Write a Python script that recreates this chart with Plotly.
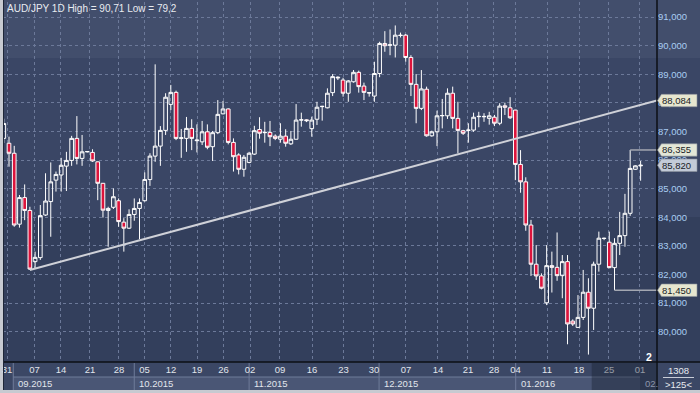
import plotly.graph_objects as go

# ---------------- data ----------------
bars = list(range(1, 124))
open_ = [86.76, 86.59, 86.24, 83.76, 84.69, 84.24, 82.45, 82.59, 84.08, 84.55,
         85.30, 85.48, 85.79, 85.99, 86.76, 86.06, 86.29, 86.27, 85.94, 85.19,
         84.24, 84.35, 84.58, 83.83, 83.62, 84.10, 84.31, 84.58, 85.32, 86.14,
         86.49, 87.04, 87.95, 88.37, 86.76, 86.76, 87.11, 86.68, 86.64, 86.99,
         86.47, 86.96, 87.62, 87.79, 86.62, 86.18, 85.68, 85.92, 86.21, 87.07,
         86.96, 86.97, 86.84, 86.73, 86.84, 86.57, 86.73, 87.40, 87.41, 87.10,
         87.43, 87.87, 87.83, 88.36, 88.90, 88.80, 88.34, 88.74, 89.07, 88.59,
         88.36, 88.24, 89.03, 90.08, 90.02, 90.02, 90.37, 90.37, 89.59, 88.65,
         87.81, 88.48, 86.85, 86.99, 87.55, 87.55, 88.34, 87.46, 87.03, 87.04,
         87.05, 87.52, 87.53, 87.46, 87.50, 87.29, 87.90, 87.83, 87.75, 85.85,
         85.24, 83.73, 82.36, 81.95, 81.01, 82.31, 82.25, 81.96, 82.45, 80.37,
         80.15, 80.50, 81.38, 80.82, 82.36, 83.27, 83.13, 82.24, 83.09, 83.36,
         84.14, 85.68, 85.80]
high = [87.45, 86.82, 86.50, 84.78, 85.15, 84.37, 82.80, 84.43, 85.54, 85.92,
        85.60, 86.08, 86.29, 86.85, 87.54, 86.88, 86.31, 86.38, 85.95, 85.20,
        84.37, 85.01, 84.66, 83.97, 84.28, 84.66, 84.66, 85.57, 86.24, 89.35,
        87.19, 88.34, 88.63, 88.43, 87.09, 87.51, 87.43, 87.25, 87.37, 87.25,
        87.02, 88.10, 88.07, 87.81, 86.76, 86.24, 86.18, 86.29, 87.20, 87.50,
        87.34, 87.37, 86.90, 87.29, 87.08, 87.02, 87.96, 87.66, 87.43, 87.52,
        88.04, 87.90, 88.51, 89.01, 88.93, 88.88, 88.80, 89.15, 89.13, 88.71,
        88.38, 89.44, 90.14, 90.51, 90.57, 90.71, 90.46, 90.41, 89.67, 89.01,
        89.15, 88.57, 87.03, 87.73, 88.14, 88.51, 88.57, 88.04, 87.06, 87.29,
        87.66, 87.69, 87.64, 87.69, 87.58, 87.99, 88.01, 88.20, 87.76, 86.35,
        85.40, 83.91, 83.03, 82.04, 83.03, 82.80, 83.47, 82.68, 82.68, 80.43,
        81.28, 82.16, 81.87, 82.45, 83.50, 83.29, 83.50, 83.27, 84.19, 84.82,
        86.355, 85.82, 85.97]
low = [86.60, 85.77, 83.67, 83.64, 83.90, 82.16, 82.22, 82.51, 84.05, 83.32,
       84.90, 84.90, 84.92, 85.80, 85.85, 85.80, 86.27, 85.94, 84.60, 83.99,
       82.97, 84.29, 83.67, 82.80, 83.59, 83.88, 83.24, 84.55, 85.10, 85.94,
       85.80, 86.88, 87.75, 86.70, 86.08, 86.29, 86.35, 86.27, 86.53, 86.38,
       85.97, 86.91, 87.60, 86.55, 85.60, 85.50, 85.42, 85.89, 86.18, 86.75,
       86.61, 86.49, 86.70, 86.61, 86.47, 86.53, 86.73, 87.17, 87.33, 86.82,
       87.23, 87.38, 87.81, 88.24, 88.80, 88.22, 88.04, 88.71, 88.36, 88.10,
       88.22, 88.04, 88.90, 89.79, 89.67, 89.59, 90.29, 89.44, 88.24, 87.29,
       87.75, 86.82, 86.82, 86.49, 87.11, 87.44, 87.11, 86.24, 86.88, 86.61,
       86.99, 87.15, 87.34, 87.24, 87.19, 87.22, 87.58, 87.44, 85.30, 84.86,
       83.53, 81.95, 81.81, 81.48, 80.93, 81.37, 81.78, 81.17, 79.56, 80.20,
       80.13, 80.41, 79.20, 80.06, 82.10, 83.20, 82.22, 81.45, 82.68, 82.97,
       84.05, 85.66, 85.28]
close = [87.28, 86.24, 83.73, 84.69, 84.24, 82.19, 82.60, 84.06, 84.57, 85.24,
         85.50, 85.82, 85.99, 86.76, 86.06, 86.29, 86.30, 85.97, 85.19, 84.25,
         84.31, 84.72, 83.85, 83.62, 84.10, 84.31, 84.52, 85.32, 86.14, 86.49,
         87.04, 88.20, 88.37, 86.76, 86.78, 87.11, 86.76, 86.70, 86.99, 86.45,
         86.96, 87.60, 87.79, 86.62, 86.12, 85.68, 86.10, 86.24, 87.03, 86.94,
         86.97, 86.82, 86.76, 86.84, 86.59, 86.73, 87.40, 87.41, 87.38, 87.40,
         87.85, 87.88, 88.34, 88.92, 88.88, 88.34, 88.77, 89.07, 88.57, 88.37,
         88.35, 89.03, 90.08, 90.00, 90.03, 90.37, 90.36, 89.59, 88.65, 87.81,
         88.49, 86.85, 86.99, 87.55, 87.56, 88.34, 87.46, 87.04, 86.94, 87.05,
         87.50, 87.53, 87.52, 87.55, 87.29, 87.89, 87.85, 87.48, 85.85, 85.24,
         83.73, 82.36, 81.95, 81.52, 82.31, 82.25, 81.96, 82.45, 80.27, 80.27,
         80.50, 81.38, 80.82, 82.36, 83.27, 83.26, 82.24, 83.09, 83.36, 84.14,
         85.71, 85.80, 85.82]

week_ticks = [1.62, 6.9, 11.96, 17.5, 23.07, 27.96, 33.03, 38.02, 43.09, 48.17,
              53.9, 60.05, 66.08, 71.92, 78.05, 84.18, 89.93, 94.91, 99.03,
              105.07, 111.2, 116.94, 122.88]
week_labels = ["31", "07", "14", "21", "28", "05", "12", "19", "26", "02",
               "09", "16", "23", "30", "07", "14", "21", "28", "04", "11",
               "18", "25", "01"]
month_starts = [2.82, 26.0, 48.0, 72.9, 99.07, 122.9]
month_labels = ["09.2015", "10.2015", "11.2015", "12.2015", "01.2016", "02."]

price_ticks = [80, 81, 82, 83, 84, 85, 86, 87, 88, 89, 90, 91]
price_labels = ["80,000", "81,000", "82,000", "83,000", "84,000", "85,000",
                "86,000", "87,000", "88,000", "89,000", "90,000", "91,000"]

trend_x = [6, 126.14]
trend_y = [82.16, 88.084]
hi_bar, hi_level = 121, 86.355
lo_bar, lo_level = 118, 81.45
last_price = 85.82

tag_values = [88.084, hi_level, last_price, lo_level]
tag_texts = ["88,084", "86,355", "85,820", "81,450"]
tag_colors = ["#e6e6cf", "#e3e7d7", "#c3cbd8", "#e6e6cf"]

title_text = "AUD/JPY 1D High = 90,71 Low = 79,2"

# ---------------- layout helpers ----------------
W, H = 700, 393
ML, MR, MT, MB = 3, 43, 2, 31
PW, PH = W - ML - MR, H - MT - MB
X0, X1 = 0.85, 126.14
Y0, Y1 = 78.94, 91.53
FONT = "Liberation Sans, Arial, sans-serif"
GRID = "#6c7999"


def px(xp):
    return (xp - ML) / PW


def py(yp):
    return (MT + PH - yp) / PH


fig = go.Figure()
fig.add_trace(go.Candlestick(
    x=bars, open=open_, high=high, low=low, close=close,
    increasing=dict(line=dict(color="#ffffff", width=1), fillcolor="rgba(0,0,0,0)"),
    decreasing=dict(line=dict(color="#ffffff", width=1), fillcolor="#dc143c"),
    whiskerwidth=0, hoverinfo="none", showlegend=False))
fig.add_trace(go.Scatter(x=trend_x, y=trend_y, mode="lines",
                         line=dict(color="#cfd1d8", width=2),
                         hoverinfo="skip", showlegend=False))
fig.add_trace(go.Scatter(x=[hi_bar, X1], y=[hi_level, hi_level], mode="lines",
                         line=dict(color="#a3a7b1", width=1.5),
                         hoverinfo="skip", showlegend=False))
fig.add_trace(go.Scatter(x=[lo_bar, X1], y=[lo_level, lo_level], mode="lines",
                         line=dict(color="#a3a7b1", width=1.5),
                         hoverinfo="skip", showlegend=False))

shapes = []
# background bands (plot + price axis)
for y_a, y_b, col in [(0, 58, "#424e6c"), (58, 217, "#3a4665"), (217, 362, "#333f5c")]:
    shapes.append(dict(type="rect", xref="paper", yref="paper", layer="below",
                       x0=px(3), x1=px(700), y0=py(y_b), y1=py(y_a),
                       fillcolor=col, line=dict(width=0)))
# time axis area
shapes.append(dict(type="rect", xref="paper", yref="paper", layer="below",
                   x0=px(3), x1=px(700), y0=py(390), y1=py(362),
                   fillcolor="#3b4765", line=dict(width=0)))
# month cells
cell_ends = month_starts[1:] + [X1]
for a, b in zip(month_starts[:-1], cell_ends[:-1]):
    shapes.append(dict(type="rect", xref="x", yref="paper", layer="below",
                       x0=a, x1=b, y0=py(390), y1=py(377),
                       fillcolor="#4a5675", line=dict(width=0)))
shapes.append(dict(type="line", xref="x", yref="paper", layer="below",
                   x0=month_starts[0], x1=month_starts[-1], y0=py(377), y1=py(377),
                   line=dict(color="#6f7c9a", width=1)))
for a in month_starts[:-1]:
    shapes.append(dict(type="line", xref="x", yref="paper", layer="below",
                       x0=a, x1=a, y0=py(390), y1=py(363),
                       line=dict(color="#6f7c9a", width=1)))
# frame lines
shapes.append(dict(type="line", xref="paper", yref="paper", layer="above",
                   x0=px(3), x1=px(700), y0=0, y1=0,
                   line=dict(color="#0d0f14", width=1.5)))
shapes.append(dict(type="line", xref="paper", yref="paper", layer="above",
                   x0=1, x1=1, y0=py(390), y1=py(0),
                   line=dict(color="#0d0f14", width=1.5)))
shapes.append(dict(type="line", xref="paper", yref="paper", layer="above",
                   x0=px(3.5), x1=px(3.5), y0=py(390), y1=py(0),
                   line=dict(color="#1e2638", width=1)))
# dimmed region of the time axis
shapes.append(dict(type="rect", xref="paper", yref="paper", layer="above",
                   x0=px(591.7), x1=px(656), y0=py(390), y1=py(363),
                   fillcolor="rgba(22,28,44,0.38)", line=dict(width=0)))
# separator in the bottom-right box
shapes.append(dict(type="line", xref="paper", yref="paper", layer="above",
                   x0=px(663), x1=px(694), y0=py(377.5), y1=py(377.5),
                   line=dict(color="#c9cdd8", width=1)))
# price tags on the right axis
hh = 6.2 / 28.6
for v, col in zip(tag_values, tag_colors):
    path = (f"M {px(657.5)},{v} L {px(661.5)},{v + hh} L {px(697)},{v + hh} "
            f"L {px(697)},{v - hh} L {px(661.5)},{v - hh} Z")
    shapes.append(dict(type="path", xref="paper", yref="y", layer="above",
                       path=path, fillcolor=col, line=dict(color="#8c929c", width=0.6)))

annotations = []
annotations.append(dict(text=title_text, xref="paper", yref="paper",
                        x=px(4.5), y=py(8), xanchor="left", yanchor="middle",
                        showarrow=False, font=dict(size=10, color="#e8ebf0", family=FONT)))
for a, lab in zip(month_starts, month_labels):
    col = "#8c95aa" if lab == "02." else "#e1e5ec"
    annotations.append(dict(text=lab, xref="x", yref="paper", x=a, y=py(383.5),
                            xanchor="left", yanchor="middle", xshift=3,
                            showarrow=False, font=dict(size=9.5, color=col, family=FONT)))
for v, t in zip(tag_values, tag_texts):
    annotations.append(dict(text=t, xref="paper", yref="y", x=px(660), y=v,
                            xanchor="left", yanchor="middle", showarrow=False,
                            font=dict(size=9.5, color="#1a1c26", family=FONT)))
annotations.append(dict(text="1308", xref="paper", yref="paper", x=px(678.5), y=py(371),
                        xanchor="center", yanchor="middle", showarrow=False,
                        font=dict(size=9.5, color="#e8ebf0", family=FONT)))
annotations.append(dict(text="&gt;125&lt;", xref="paper", yref="paper", x=px(678.5), y=py(384.5),
                        xanchor="center", yanchor="middle", showarrow=False,
                        font=dict(size=9.5, color="#e8ebf0", family=FONT)))
annotations.append(dict(text="<b>2</b>", xref="paper", yref="paper", x=px(648.5), y=py(357),
                        xanchor="center", yanchor="middle", showarrow=False,
                        font=dict(size=10.5, color="#ffffff", family=FONT)))

fig.update_layout(
    width=W, height=H, autosize=False,
    margin=dict(l=ML, r=MR, t=MT, b=MB, pad=0),
    paper_bgcolor="#c7cad1", plot_bgcolor="rgba(0,0,0,0)",
    font=dict(family=FONT, size=9.5, color="#e1e5ec"),
    showlegend=False, hovermode=False,
    boxgap=0.3, boxgroupgap=0,
    shapes=shapes, annotations=annotations,
    xaxis=dict(range=[X0, X1], tickvals=week_ticks, ticktext=week_labels,
               showgrid=True, gridcolor=GRID, griddash="3px,3px", gridwidth=1,
               zeroline=False, showline=False, ticks="", fixedrange=True,
               rangeslider=dict(visible=False), tickangle=0,
               tickfont=dict(size=9.5, color="#e1e5ec", family=FONT)),
    yaxis=dict(range=[Y0, Y1], side="right", tickvals=price_ticks, ticktext=price_labels,
               showgrid=True, gridcolor=GRID, griddash="3px,3px", gridwidth=1,
               zeroline=False, showline=False, ticks="", fixedrange=True,
               tickfont=dict(size=9.5, color="#a9cdf2", family=FONT)),
)

fig.write_html("out.html", config={"displayModeBar": False, "staticPlot": True},
               post_script="document.body.style.margin='0';document.body.style.overflow='hidden';")
